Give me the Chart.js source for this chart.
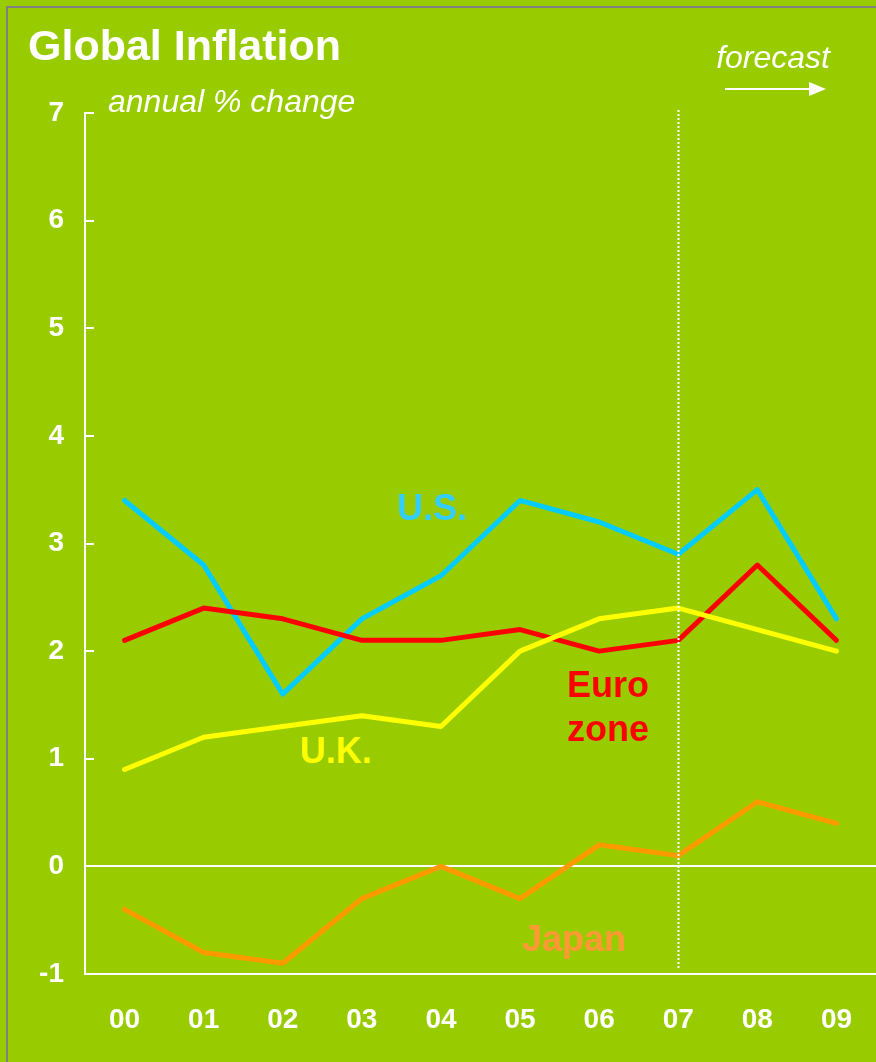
<!DOCTYPE html>
<html>
<head>
<meta charset="utf-8">
<script src="https://cdn.jsdelivr.net/npm/chart.js@4/dist/chart.umd.min.js"></script>
<style>
  html, body { margin: 0; padding: 0; background: #99CC00; }
  #wrap { width: 876px; height: 1062px; }
</style>
</head>
<body>
<div id="wrap"><canvas id="myChart" width="876" height="1062"></canvas></div>
<script>
const years = ['00', '01', '02', '03', '04', '05', '06', '07', '08', '09'];
const yTicks = [-1, 0, 1, 2, 3, 4, 5, 6, 7];
const usValues = [3.4, 2.8, 1.6, 2.3, 2.7, 3.4, 3.2, 2.9, 3.5, 2.3];
const euroValues = [2.1, 2.4, 2.3, 2.1, 2.1, 2.2, 2.0, 2.1, 2.8, 2.1];
const ukValues = [0.9, 1.2, 1.3, 1.4, 1.3, 2.0, 2.3, 2.4, 2.2, 2.0];
const japanValues = [-0.4, -0.8, -0.9, -0.3, 0.0, -0.3, 0.2, 0.1, 0.6, 0.4];
const forecastStart = '07';

const GREEN = '#99CC00';
const FONT = '"Liberation Sans", Arial, sans-serif';

// 배경, 테두리, 글자, 예측선
const decor = {
  id: 'decor',
  beforeDraw(chart) {
    const c = chart.ctx;
    c.save();
    c.fillStyle = GREEN;
    c.fillRect(0, 0, chart.width, chart.height);
    c.strokeStyle = '#808080';
    c.lineWidth = 2;
    c.beginPath();
    c.moveTo(7, chart.height);
    c.lineTo(7, 7);
    c.lineTo(chart.width, 7);
    c.stroke();
    c.restore();
  },
  afterDraw(chart) {
    const c = chart.ctx;
    const x = chart.scales.x;
    const y = chart.scales.y;
    c.save();

    // y축 안쪽 눈금
    c.strokeStyle = '#fff';
    c.lineWidth = 2;
    yTicks.forEach(v => {
      const py = Math.round(y.getPixelForValue(v));
      c.beginPath();
      c.moveTo(chart.chartArea.left, py);
      c.lineTo(chart.chartArea.left + 9, py);
      c.stroke();
    });

    // 예측 구분 점선
    const fx = Math.round(x.getPixelForValue(years.indexOf(forecastStart))) + 0.5;
    c.setLineDash([2, 2]);
    c.lineWidth = 2;
    c.beginPath();
    c.moveTo(fx, 110);
    c.lineTo(fx, 968);
    c.stroke();
    c.setLineDash([]);

    // 제목
    c.fillStyle = '#fff';
    c.textBaseline = 'alphabetic';
    c.textAlign = 'left';
    c.font = 'bold 43px ' + FONT;
    c.fillText('Global Inflation', 28, 60);
    c.font = 'italic 32px ' + FONT;
    c.fillText('annual % change', 108, 112);
    c.textAlign = 'right';
    c.fillText('forecast', 830, 68);

    // 화살표
    c.lineWidth = 2;
    c.beginPath();
    c.moveTo(725, 89);
    c.lineTo(812, 89);
    c.stroke();
    c.beginPath();
    c.moveTo(826, 89);
    c.lineTo(809, 82);
    c.lineTo(809, 96);
    c.closePath();
    c.fill();

    // 계열 이름
    c.textAlign = 'left';
    c.font = 'bold 36px ' + FONT;
    c.fillStyle = '#33CCFF';
    c.fillText('U.S.', 397, 520);
    c.fillStyle = '#FF0000';
    c.fillText('Euro', 567, 697);
    c.fillText('zone', 567, 741);
    c.fillStyle = '#FFFF00';
    c.fillText('U.K.', 300, 763);
    c.fillStyle = '#FF9933';
    c.fillText('Japan', 522, 951);
    c.restore();
  }
};

function line(label, data, color) {
  return {
    label: label,
    data: data,
    borderColor: color,
    backgroundColor: color,
    borderWidth: 5,
    pointRadius: 0,
    tension: 0,
    borderCapStyle: 'round',
    borderJoinStyle: 'round',
    clip: false
  };
}

const ctx = document.querySelector('#myChart');
const inflationChart = new Chart(ctx, {
  type: 'line',
  data: {
    labels: years,
    datasets: [
      line('Japan', japanValues, '#FF9900'),
      line('U.K.', ukValues, '#FFFF00'),
      line('Euro zone', euroValues, '#FF0000'),
      line('U.S.', usValues, '#00CCFF')
    ]
  },
  options: {
    responsive: false,
    animation: false,
    devicePixelRatio: 1,
    layout: { padding: { top: 113, left: 0, right: 0, bottom: 0 } },
    plugins: {
      legend: { display: false },
      tooltip: { enabled: false }
    },
    scales: {
      x: {
        offset: true,
        afterFit: s => { s.height = 88; s.paddingLeft = 0; s.paddingRight = 0; },
        grid: { display: true, color: 'transparent', drawTicks: false },
        border: { display: true, color: '#fff', width: 2 },
        ticks: {
          color: '#fff',
          padding: 29,
          maxRotation: 0,
          font: { family: FONT, size: 28, weight: 'bold' }
        }
      },
      y: {
        min: -1,
        max: 7,
        afterFit: s => { s.width = 85; s.paddingTop = 0; s.paddingBottom = 0; },
        afterBuildTicks: s => { s.ticks = yTicks.map(v => ({ value: v })); },
        grid: {
          drawTicks: false,
          lineWidth: 2,
          color: c => (c.tick && c.tick.value === 0) ? '#fff' : 'transparent'
        },
        border: { display: true, color: '#fff', width: 2 },
        ticks: {
          color: '#fff',
          padding: 21,
          font: { family: FONT, size: 28, weight: 'bold' }
        }
      }
    }
  },
  plugins: [decor]
});
</script>
</body>
</html>
